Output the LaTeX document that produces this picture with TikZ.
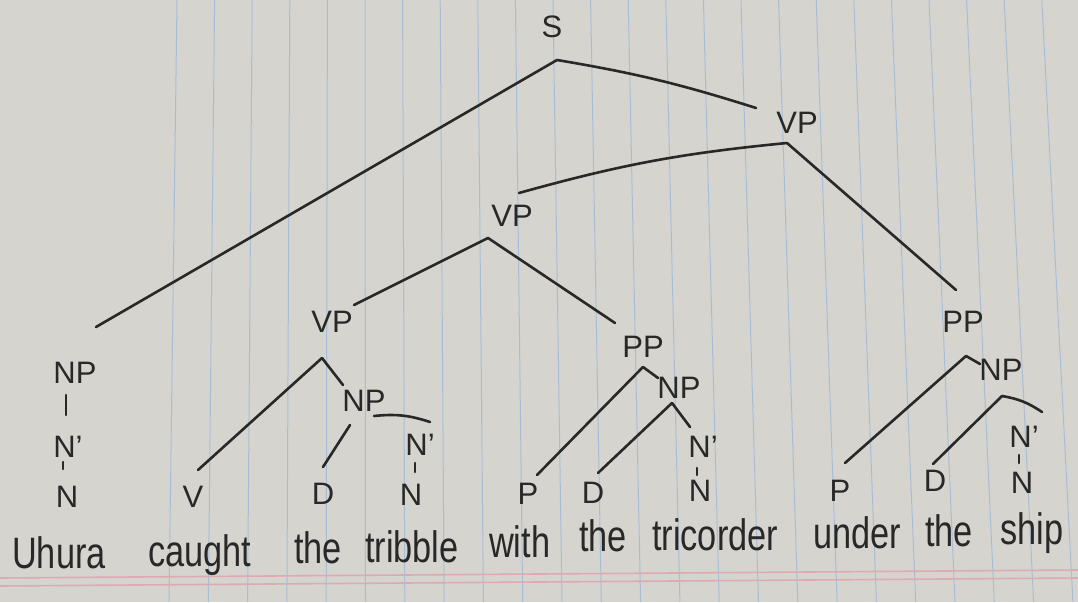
\documentclass[tikz,border=0pt]{standalone}
\usepackage{fontspec}
\setmainfont{Liberation Sans}
\newfontfamily\handw[FakeStretch=0.78]{Liberation Sans}
\usetikzlibrary{calc}
\definecolor{paper}{RGB}{214,212,207}
\definecolor{blueline}{RGB}{168,190,212}
\definecolor{pinkline}{RGB}{222,170,178}
\definecolor{ink}{RGB}{40,40,40}
\begin{document}
\begin{tikzpicture}[x=1pt,y=-1pt,
  lbl/.style={inner sep=0pt, font=\fontsize{31}{31}\selectfont, text=ink},
  word/.style={inner sep=0pt, anchor=base west, font=\handw\fontsize{44}{44}\selectfont, text=ink},
  edge/.style={draw=ink, line width=2.6pt, line cap=round}]
\fill[paper] (0,0) rectangle (1078,602);
\useasboundingbox (0,0) rectangle (1078,602);
% ruled paper
\foreach \k in {0,...,23} {
  \draw[blueline, line width=1pt] (177+37.6*\k,0) -- (169+39.3*\k,602);
}
\draw[pinkline, line width=1.6pt] (0,578) -- (1078,570);
\draw[pinkline, line width=1.6pt] (0,586) -- (1078,578);

% labels
\node[lbl] (S)   at (552,27)  {S};
\node[lbl] (VP1) at (797,123) {VP};
\node[lbl] (VP2) at (512,216) {VP};
\node[lbl] (VP3) at (332,322) {VP};
\node[lbl] (NP1) at (75,373)  {NP};
\node[lbl] (Nb0) at (68,447)  {N'};
\node[lbl] (N0)  at (67,497)  {N};
\node[lbl] (V)   at (193,497) {V};
\node[lbl] (NP2) at (364,401) {NP};
\node[lbl] (D1)  at (323,494) {D};
\node[lbl] (Nb1) at (420,445) {N'};
\node[lbl] (N1)  at (411,495) {N};
\node[lbl] (PP1) at (643,347) {PP};
\node[lbl] (P1)  at (528,494) {P};
\node[lbl] (NP3) at (679,388) {NP};
\node[lbl] (D2)  at (593,493) {D};
\node[lbl] (Nb2) at (703,447) {N'};
\node[lbl] (N2)  at (700,491) {N};
\node[lbl] (PP2) at (963,322) {PP};
\node[lbl] (P2)  at (840,491) {P};
\node[lbl] (NP4) at (1001,370) {NP};
\node[lbl] (D3)  at (935,481) {D};
\node[lbl] (Nb3) at (1024,437) {N'};
\node[lbl] (N3)  at (1022,483) {N};

% words
\node[word] (w1)  at (12,568)   {Uhura};
\node[word] (w2)  at (148,566)  {caught};
\node[word] (w3)  at (294,563)  {the};
\node[word] (w4)  at (365,562)  {tribble};
\node[word] (w5)  at (489,557)  {with};
\node[word] (w6)  at (579,551)  {the};
\node[word] (w7)  at (652,550)  {tricorder};
\node[word] (w8)  at (813,548)  {under};
\node[word] (w9)  at (925,546)  {the};
\node[word] (w10) at (1000,544) {ship};

% edges
\draw[edge] ($(S)+(5,33)$) -- ($(NP1)+(21,-46)$);
\draw[edge] ($(S)+(5,33)$) to[bend left=4] ($(VP1)+(-41,-15)$);
\draw[edge] ($(VP1)+(-10,20)$) to[bend right=5] ($(VP2)+(7,-23)$);
\draw[edge] ($(VP1)+(-10,20)$) -- ($(PP2)+(-7,-32)$);
\draw[edge] ($(VP2)+(-24,22)$) -- ($(VP3)+(22,-17)$);
\draw[edge] ($(VP2)+(-24,22)$) -- ($(PP1)+(-28,-24)$);
\draw[edge] ($(VP3)+(-10,36)$) -- ($(V)+(5,-27)$);
\draw[edge] ($(VP3)+(-10,36)$) -- ($(NP2)+(-21,-16)$);
\draw[edge] ($(NP2)+(-14,24)$) -- ($(D1)+(0,-27)$);
\draw[edge] ($(NP2)+(10,15)$) to[bend left=12] ($(Nb1)+(10,-23)$);
\draw[edge] ($(Nb1)+(-5,18)$) -- ($(N1)+(4,-23)$);
\draw[edge] ($(NP1)+(-9,22)$) -- ($(Nb0)+(-2,-32)$);
\draw[edge] ($(Nb0)+(-5,15)$) -- ($(N0)+(-4,-28)$);
\draw[edge] ($(PP1)+(0,20)$) -- ($(P1)+(9,-19)$);
\draw[edge] ($(PP1)+(0,20)$) -- ($(NP3)+(-21,-10)$);
\draw[edge] ($(NP3)+(-7,15)$) -- ($(D2)+(5,-20)$);
\draw[edge] ($(NP3)+(-7,15)$) -- ($(Nb2)+(-13,-20)$);
\draw[edge] ($(Nb2)+(-6,21)$) -- ($(N2)+(-3,-16)$);
\draw[edge] ($(PP2)+(3,34)$) -- ($(P2)+(5,-28)$);
\draw[edge] ($(PP2)+(3,34)$) -- ($(NP4)+(-21,-6)$);
\draw[edge] ($(NP4)+(1,26)$) -- ($(D3)+(-2,-17)$);
\draw[edge] ($(NP4)+(1,26)$) to[bend left=12] ($(Nb3)+(18,-25)$);
\draw[edge] ($(Nb3)+(-5,18)$) -- ($(N3)+(-3,-20)$);
\end{tikzpicture}
\end{document}
